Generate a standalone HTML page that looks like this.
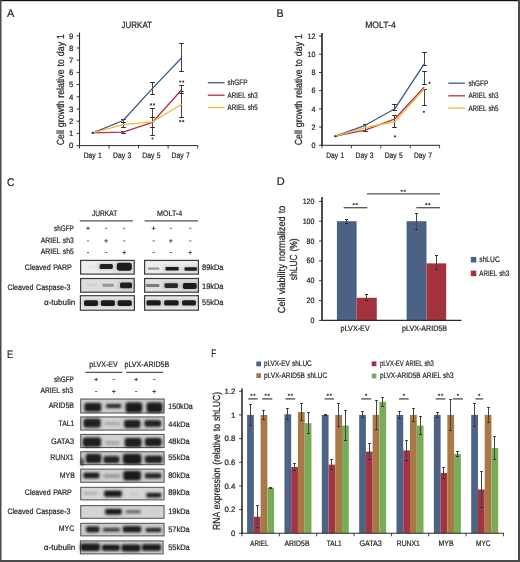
<!DOCTYPE html>
<html><head><meta charset="utf-8"><style>
html,body{margin:0;padding:0;background:#fff;}
body{width:520px;height:562px;overflow:hidden;}
svg{display:block;font-family:"Liberation Sans", sans-serif;will-change:transform;}
text{stroke:#262626;stroke-width:0.22px;paint-order:stroke;word-spacing:0.6px;text-rendering:geometricPrecision;}
</style></head><body>
<svg width="520" height="562" viewBox="0 0 520 562">
<defs><filter id="bl" x="-30%" y="-60%" width="160%" height="220%"><feGaussianBlur stdDeviation="0.75"/></filter><filter id="bl2" x="-30%" y="-80%" width="160%" height="260%"><feGaussianBlur stdDeviation="1.4"/></filter><filter id="bl3" x="-30%" y="-60%" width="160%" height="220%"><feGaussianBlur stdDeviation="0.95"/></filter></defs>
<rect x="0" y="0" width="520" height="562" fill="#ffffff"/>
<text x="7.00" y="16.80" font-size="11" text-anchor="start" fill="#262626">A</text>
<text x="121.60" y="27.70" font-size="9.2" text-anchor="start" fill="#262626" textLength="30.40" lengthAdjust="spacingAndGlyphs">JURKAT</text>
<text transform="translate(63.60,89.70) rotate(-90)" x="0" y="0" font-size="10.3" text-anchor="middle" fill="#262626" textLength="111.20" lengthAdjust="spacingAndGlyphs">Cell growth relative to day 1</text>
<line x1="79.50" y1="32.60" x2="79.50" y2="146.10" stroke="#2b2b2b" stroke-width="1.1"/>
<line x1="76.50" y1="145.60" x2="79.50" y2="145.60" stroke="#2b2b2b" stroke-width="0.9"/>
<text x="73.40" y="148.35" font-size="7.8" text-anchor="end" fill="#262626">0</text>
<line x1="76.50" y1="133.40" x2="79.50" y2="133.40" stroke="#2b2b2b" stroke-width="0.9"/>
<text x="73.40" y="136.15" font-size="7.8" text-anchor="end" fill="#262626">1</text>
<line x1="76.50" y1="121.20" x2="79.50" y2="121.20" stroke="#2b2b2b" stroke-width="0.9"/>
<text x="73.40" y="123.95" font-size="7.8" text-anchor="end" fill="#262626">2</text>
<line x1="76.50" y1="109.00" x2="79.50" y2="109.00" stroke="#2b2b2b" stroke-width="0.9"/>
<text x="73.40" y="111.75" font-size="7.8" text-anchor="end" fill="#262626">3</text>
<line x1="76.50" y1="96.80" x2="79.50" y2="96.80" stroke="#2b2b2b" stroke-width="0.9"/>
<text x="73.40" y="99.55" font-size="7.8" text-anchor="end" fill="#262626">4</text>
<line x1="76.50" y1="84.60" x2="79.50" y2="84.60" stroke="#2b2b2b" stroke-width="0.9"/>
<text x="73.40" y="87.35" font-size="7.8" text-anchor="end" fill="#262626">5</text>
<line x1="76.50" y1="72.40" x2="79.50" y2="72.40" stroke="#2b2b2b" stroke-width="0.9"/>
<text x="73.40" y="75.15" font-size="7.8" text-anchor="end" fill="#262626">6</text>
<line x1="76.50" y1="60.20" x2="79.50" y2="60.20" stroke="#2b2b2b" stroke-width="0.9"/>
<text x="73.40" y="62.95" font-size="7.8" text-anchor="end" fill="#262626">7</text>
<line x1="76.50" y1="48.00" x2="79.50" y2="48.00" stroke="#2b2b2b" stroke-width="0.9"/>
<text x="73.40" y="50.75" font-size="7.8" text-anchor="end" fill="#262626">8</text>
<line x1="76.50" y1="35.80" x2="79.50" y2="35.80" stroke="#2b2b2b" stroke-width="0.9"/>
<text x="73.40" y="38.55" font-size="7.8" text-anchor="end" fill="#262626">9</text>
<line x1="79.00" y1="145.60" x2="197.80" y2="145.60" stroke="#2b2b2b" stroke-width="1.0"/>
<line x1="79.50" y1="145.60" x2="79.50" y2="148.60" stroke="#2b2b2b" stroke-width="0.9"/>
<line x1="109.05" y1="145.60" x2="109.05" y2="148.60" stroke="#2b2b2b" stroke-width="0.9"/>
<line x1="138.60" y1="145.60" x2="138.60" y2="148.60" stroke="#2b2b2b" stroke-width="0.9"/>
<line x1="168.15" y1="145.60" x2="168.15" y2="148.60" stroke="#2b2b2b" stroke-width="0.9"/>
<line x1="197.70" y1="145.60" x2="197.70" y2="148.60" stroke="#2b2b2b" stroke-width="0.9"/>
<text x="92.80" y="157.90" font-size="8.0" text-anchor="middle" fill="#262626" textLength="18.20" lengthAdjust="spacingAndGlyphs">Day 1</text>
<text x="122.20" y="157.90" font-size="8.0" text-anchor="middle" fill="#262626" textLength="18.20" lengthAdjust="spacingAndGlyphs">Day 3</text>
<text x="151.40" y="157.90" font-size="8.0" text-anchor="middle" fill="#262626" textLength="18.20" lengthAdjust="spacingAndGlyphs">Day 5</text>
<text x="180.60" y="157.90" font-size="8.0" text-anchor="middle" fill="#262626" textLength="18.20" lengthAdjust="spacingAndGlyphs">Day 7</text>
<line x1="123.50" y1="119.60" x2="123.50" y2="127.40" stroke="#444" stroke-width="1.0"/>
<line x1="121.20" y1="119.50" x2="125.80" y2="119.50" stroke="#2b2b2b" stroke-width="1.0"/>
<line x1="121.20" y1="127.50" x2="125.80" y2="127.50" stroke="#2b2b2b" stroke-width="1.0"/>
<line x1="121.20" y1="122.50" x2="125.80" y2="122.50" stroke="#2b2b2b" stroke-width="1.0"/>
<line x1="123.50" y1="131.60" x2="123.50" y2="133.40" stroke="#444" stroke-width="1.0"/>
<line x1="121.20" y1="131.50" x2="125.80" y2="131.50" stroke="#2b2b2b" stroke-width="1.0"/>
<line x1="121.20" y1="133.50" x2="125.80" y2="133.50" stroke="#2b2b2b" stroke-width="1.0"/>
<line x1="152.50" y1="82.20" x2="152.50" y2="94.20" stroke="#444" stroke-width="1.0"/>
<line x1="150.20" y1="82.50" x2="154.80" y2="82.50" stroke="#2b2b2b" stroke-width="1.0"/>
<line x1="150.20" y1="94.50" x2="154.80" y2="94.50" stroke="#2b2b2b" stroke-width="1.0"/>
<line x1="152.50" y1="108.60" x2="152.50" y2="135.60" stroke="#444" stroke-width="1.0"/>
<line x1="150.20" y1="108.50" x2="154.80" y2="108.50" stroke="#2b2b2b" stroke-width="1.0"/>
<line x1="150.20" y1="135.50" x2="154.80" y2="135.50" stroke="#2b2b2b" stroke-width="1.0"/>
<line x1="150.20" y1="117.50" x2="154.80" y2="117.50" stroke="#2b2b2b" stroke-width="1.0"/>
<line x1="150.20" y1="127.50" x2="154.80" y2="127.50" stroke="#2b2b2b" stroke-width="1.0"/>
<line x1="181.50" y1="43.20" x2="181.50" y2="71.10" stroke="#444" stroke-width="1.0"/>
<line x1="179.20" y1="43.50" x2="183.80" y2="43.50" stroke="#2b2b2b" stroke-width="1.0"/>
<line x1="179.20" y1="71.50" x2="183.80" y2="71.50" stroke="#2b2b2b" stroke-width="1.0"/>
<line x1="181.50" y1="85.40" x2="181.50" y2="117.70" stroke="#444" stroke-width="1.0"/>
<line x1="179.20" y1="85.50" x2="183.80" y2="85.50" stroke="#2b2b2b" stroke-width="1.0"/>
<line x1="179.20" y1="117.50" x2="183.80" y2="117.50" stroke="#2b2b2b" stroke-width="1.0"/>
<line x1="179.20" y1="91.50" x2="183.80" y2="91.50" stroke="#2b2b2b" stroke-width="1.0"/>
<line x1="179.20" y1="93.50" x2="183.80" y2="93.50" stroke="#2b2b2b" stroke-width="1.0"/>
<polyline points="92.80,132.90 123.10,120.50 152.50,88.40 181.70,57.70" fill="none" stroke="#3b5a8c" stroke-width="1.3" stroke-linejoin="round"/>
<polyline points="92.80,132.90 123.10,132.20 152.50,122.30 181.70,89.80" fill="none" stroke="#b03246" stroke-width="1.3" stroke-linejoin="round"/>
<polyline points="92.80,132.90 123.10,124.60 152.50,121.80 181.70,104.30" fill="none" stroke="#f0b938" stroke-width="1.3" stroke-linejoin="round"/>
<rect x="91.60" y="132.10" width="2.20" height="1.70" fill="#222"/>
<circle cx="151.00" cy="104.50" r="1.15" fill="#4a4a4a"/>
<circle cx="154.00" cy="104.50" r="1.15" fill="#4a4a4a"/>
<circle cx="152.50" cy="138.60" r="1.15" fill="#4a4a4a"/>
<circle cx="180.20" cy="81.60" r="1.15" fill="#4a4a4a"/>
<circle cx="183.20" cy="81.60" r="1.15" fill="#4a4a4a"/>
<circle cx="180.20" cy="121.20" r="1.15" fill="#4a4a4a"/>
<circle cx="183.20" cy="121.20" r="1.15" fill="#4a4a4a"/>
<line x1="207.80" y1="82.70" x2="224.60" y2="82.70" stroke="#3b5a8c" stroke-width="1.3"/>
<text x="227.60" y="85.30" font-size="8.0" text-anchor="start" fill="#262626" textLength="19.80" lengthAdjust="spacingAndGlyphs">shGFP</text>
<line x1="207.80" y1="95.20" x2="224.60" y2="95.20" stroke="#b03246" stroke-width="1.3"/>
<text x="227.60" y="97.80" font-size="8.0" text-anchor="start" fill="#262626" textLength="30.20" lengthAdjust="spacingAndGlyphs">ARIEL sh3</text>
<line x1="207.80" y1="107.50" x2="224.60" y2="107.50" stroke="#f0b938" stroke-width="1.3"/>
<text x="227.60" y="110.10" font-size="8.0" text-anchor="start" fill="#262626" textLength="30.20" lengthAdjust="spacingAndGlyphs">ARIEL sh5</text>
<text x="276.50" y="16.80" font-size="11" text-anchor="start" fill="#262626" textLength="7.05" lengthAdjust="spacingAndGlyphs">B</text>
<text x="365.20" y="28.00" font-size="9.2" text-anchor="start" fill="#262626" textLength="30.50" lengthAdjust="spacingAndGlyphs">MOLT-4</text>
<text transform="translate(301.60,89.70) rotate(-90)" x="0" y="0" font-size="10.3" text-anchor="middle" fill="#262626" textLength="111.20" lengthAdjust="spacingAndGlyphs">Cell growth relative to day 1</text>
<line x1="322.00" y1="33.00" x2="322.00" y2="145.80" stroke="#222" stroke-width="1.6"/>
<line x1="319.00" y1="145.30" x2="322.00" y2="145.30" stroke="#2b2b2b" stroke-width="0.9"/>
<text x="315.40" y="148.05" font-size="7.8" text-anchor="end" fill="#262626" textLength="4.00" lengthAdjust="spacingAndGlyphs">0</text>
<line x1="319.00" y1="127.10" x2="322.00" y2="127.10" stroke="#2b2b2b" stroke-width="0.9"/>
<text x="315.40" y="129.85" font-size="7.8" text-anchor="end" fill="#262626" textLength="4.00" lengthAdjust="spacingAndGlyphs">2</text>
<line x1="319.00" y1="108.90" x2="322.00" y2="108.90" stroke="#2b2b2b" stroke-width="0.9"/>
<text x="315.40" y="111.65" font-size="7.8" text-anchor="end" fill="#262626" textLength="4.00" lengthAdjust="spacingAndGlyphs">4</text>
<line x1="319.00" y1="90.70" x2="322.00" y2="90.70" stroke="#2b2b2b" stroke-width="0.9"/>
<text x="315.40" y="93.45" font-size="7.8" text-anchor="end" fill="#262626" textLength="4.00" lengthAdjust="spacingAndGlyphs">6</text>
<line x1="319.00" y1="72.50" x2="322.00" y2="72.50" stroke="#2b2b2b" stroke-width="0.9"/>
<text x="315.40" y="75.25" font-size="7.8" text-anchor="end" fill="#262626" textLength="4.00" lengthAdjust="spacingAndGlyphs">8</text>
<line x1="319.00" y1="54.30" x2="322.00" y2="54.30" stroke="#2b2b2b" stroke-width="0.9"/>
<text x="315.40" y="57.05" font-size="7.8" text-anchor="end" fill="#262626" textLength="8.00" lengthAdjust="spacingAndGlyphs">10</text>
<line x1="319.00" y1="36.10" x2="322.00" y2="36.10" stroke="#2b2b2b" stroke-width="0.9"/>
<text x="315.40" y="38.85" font-size="7.8" text-anchor="end" fill="#262626" textLength="8.00" lengthAdjust="spacingAndGlyphs">12</text>
<line x1="321.50" y1="145.30" x2="439.80" y2="145.30" stroke="#2b2b2b" stroke-width="1.0"/>
<line x1="322.00" y1="145.30" x2="322.00" y2="148.30" stroke="#2b2b2b" stroke-width="0.9"/>
<line x1="351.40" y1="145.30" x2="351.40" y2="148.30" stroke="#2b2b2b" stroke-width="0.9"/>
<line x1="380.80" y1="145.30" x2="380.80" y2="148.30" stroke="#2b2b2b" stroke-width="0.9"/>
<line x1="410.20" y1="145.30" x2="410.20" y2="148.30" stroke="#2b2b2b" stroke-width="0.9"/>
<line x1="439.60" y1="145.30" x2="439.60" y2="148.30" stroke="#2b2b2b" stroke-width="0.9"/>
<text x="335.25" y="157.60" font-size="8.0" text-anchor="middle" fill="#262626" textLength="18.00" lengthAdjust="spacingAndGlyphs">Day 1</text>
<text x="364.60" y="157.60" font-size="8.0" text-anchor="middle" fill="#262626" textLength="18.00" lengthAdjust="spacingAndGlyphs">Day 3</text>
<text x="393.75" y="157.60" font-size="8.0" text-anchor="middle" fill="#262626" textLength="18.00" lengthAdjust="spacingAndGlyphs">Day 5</text>
<text x="423.00" y="157.60" font-size="8.0" text-anchor="middle" fill="#262626" textLength="18.00" lengthAdjust="spacingAndGlyphs">Day 7</text>
<line x1="365.50" y1="124.30" x2="365.50" y2="131.80" stroke="#444" stroke-width="1.0"/>
<line x1="363.20" y1="124.50" x2="367.80" y2="124.50" stroke="#2b2b2b" stroke-width="1.0"/>
<line x1="363.20" y1="131.50" x2="367.80" y2="131.50" stroke="#2b2b2b" stroke-width="1.0"/>
<line x1="394.50" y1="104.50" x2="394.50" y2="110.50" stroke="#444" stroke-width="1.0"/>
<line x1="392.20" y1="104.50" x2="396.80" y2="104.50" stroke="#2b2b2b" stroke-width="1.0"/>
<line x1="392.20" y1="110.50" x2="396.80" y2="110.50" stroke="#2b2b2b" stroke-width="1.0"/>
<line x1="394.50" y1="115.30" x2="394.50" y2="127.30" stroke="#444" stroke-width="1.0"/>
<line x1="392.20" y1="115.50" x2="396.80" y2="115.50" stroke="#2b2b2b" stroke-width="1.0"/>
<line x1="392.20" y1="127.50" x2="396.80" y2="127.50" stroke="#2b2b2b" stroke-width="1.0"/>
<line x1="424.50" y1="52.50" x2="424.50" y2="65.30" stroke="#444" stroke-width="1.0"/>
<line x1="422.20" y1="52.50" x2="426.80" y2="52.50" stroke="#2b2b2b" stroke-width="1.0"/>
<line x1="422.20" y1="65.50" x2="426.80" y2="65.50" stroke="#2b2b2b" stroke-width="1.0"/>
<line x1="424.50" y1="71.00" x2="424.50" y2="84.40" stroke="#444" stroke-width="1.0"/>
<line x1="422.20" y1="71.50" x2="426.80" y2="71.50" stroke="#2b2b2b" stroke-width="1.0"/>
<line x1="422.20" y1="84.50" x2="426.80" y2="84.50" stroke="#2b2b2b" stroke-width="1.0"/>
<line x1="424.50" y1="89.30" x2="424.50" y2="105.20" stroke="#444" stroke-width="1.0"/>
<line x1="422.20" y1="89.50" x2="426.80" y2="89.50" stroke="#2b2b2b" stroke-width="1.0"/>
<line x1="422.20" y1="105.50" x2="426.80" y2="105.50" stroke="#2b2b2b" stroke-width="1.0"/>
<polyline points="335.50,136.20 365.20,125.30 394.90,108.70 424.20,63.80" fill="none" stroke="#3b5a8c" stroke-width="1.3" stroke-linejoin="round"/>
<polyline points="335.50,136.20 365.20,130.10 394.90,118.80 424.20,87.20" fill="none" stroke="#b03246" stroke-width="1.3" stroke-linejoin="round"/>
<polyline points="335.50,136.20 365.20,127.60 394.90,121.50 424.20,88.90" fill="none" stroke="#f0b938" stroke-width="1.3" stroke-linejoin="round"/>
<rect x="334.30" y="135.40" width="2.20" height="1.70" fill="#222"/>
<circle cx="394.90" cy="136.40" r="1.15" fill="#4a4a4a"/>
<circle cx="429.50" cy="82.80" r="1.15" fill="#4a4a4a"/>
<circle cx="423.90" cy="111.80" r="1.15" fill="#4a4a4a"/>
<line x1="448.30" y1="83.20" x2="465.00" y2="83.20" stroke="#3b5a8c" stroke-width="1.3"/>
<text x="468.40" y="85.80" font-size="8.0" text-anchor="start" fill="#262626" textLength="19.80" lengthAdjust="spacingAndGlyphs">shGFP</text>
<line x1="448.30" y1="95.80" x2="465.00" y2="95.80" stroke="#b03246" stroke-width="1.3"/>
<text x="468.40" y="98.40" font-size="8.0" text-anchor="start" fill="#262626" textLength="30.20" lengthAdjust="spacingAndGlyphs">ARIEL sh3</text>
<line x1="448.30" y1="108.10" x2="465.00" y2="108.10" stroke="#f0b938" stroke-width="1.3"/>
<text x="468.40" y="110.70" font-size="8.0" text-anchor="start" fill="#262626" textLength="30.20" lengthAdjust="spacingAndGlyphs">ARIEL sh5</text>
<text x="6.90" y="185.60" font-size="11" text-anchor="start" fill="#262626" textLength="7.50" lengthAdjust="spacingAndGlyphs">C</text>
<text x="92.00" y="216.30" font-size="8.0" text-anchor="start" fill="#262626" textLength="25.20" lengthAdjust="spacingAndGlyphs">JURKAT</text>
<line x1="79.80" y1="220.80" x2="132.90" y2="220.80" stroke="#555" stroke-width="1.3"/>
<text x="157.00" y="216.30" font-size="8.0" text-anchor="start" fill="#262626" textLength="25.20" lengthAdjust="spacingAndGlyphs">MOLT-4</text>
<line x1="144.50" y1="220.80" x2="198.00" y2="220.80" stroke="#555" stroke-width="1.3"/>
<text x="73.80" y="230.80" font-size="8.0" text-anchor="end" fill="#262626" textLength="19.80" lengthAdjust="spacingAndGlyphs">shGFP</text>
<text x="73.80" y="242.50" font-size="8.0" text-anchor="end" fill="#262626" textLength="33.00" lengthAdjust="spacingAndGlyphs">ARIEL sh3</text>
<text x="73.80" y="254.30" font-size="8.0" text-anchor="end" fill="#262626" textLength="33.00" lengthAdjust="spacingAndGlyphs">ARIEL sh5</text>
<line x1="86.10" y1="228.30" x2="89.90" y2="228.30" stroke="#333" stroke-width="0.8"/>
<line x1="88.00" y1="226.40" x2="88.00" y2="230.20" stroke="#333" stroke-width="0.8"/>
<line x1="105.00" y1="228.30" x2="107.20" y2="228.30" stroke="#444" stroke-width="0.8"/>
<line x1="123.10" y1="228.30" x2="125.30" y2="228.30" stroke="#444" stroke-width="0.8"/>
<line x1="151.70" y1="228.30" x2="155.50" y2="228.30" stroke="#333" stroke-width="0.8"/>
<line x1="153.60" y1="226.40" x2="153.60" y2="230.20" stroke="#333" stroke-width="0.8"/>
<line x1="169.70" y1="228.30" x2="171.90" y2="228.30" stroke="#444" stroke-width="0.8"/>
<line x1="189.10" y1="228.30" x2="191.30" y2="228.30" stroke="#444" stroke-width="0.8"/>
<line x1="86.90" y1="240.90" x2="89.10" y2="240.90" stroke="#444" stroke-width="0.8"/>
<line x1="104.20" y1="240.90" x2="108.00" y2="240.90" stroke="#333" stroke-width="0.8"/>
<line x1="106.10" y1="239.00" x2="106.10" y2="242.80" stroke="#333" stroke-width="0.8"/>
<line x1="123.10" y1="240.90" x2="125.30" y2="240.90" stroke="#444" stroke-width="0.8"/>
<line x1="152.50" y1="240.90" x2="154.70" y2="240.90" stroke="#444" stroke-width="0.8"/>
<line x1="168.90" y1="240.90" x2="172.70" y2="240.90" stroke="#333" stroke-width="0.8"/>
<line x1="170.80" y1="239.00" x2="170.80" y2="242.80" stroke="#333" stroke-width="0.8"/>
<line x1="189.10" y1="240.90" x2="191.30" y2="240.90" stroke="#444" stroke-width="0.8"/>
<line x1="86.90" y1="252.50" x2="89.10" y2="252.50" stroke="#444" stroke-width="0.8"/>
<line x1="105.00" y1="252.50" x2="107.20" y2="252.50" stroke="#444" stroke-width="0.8"/>
<line x1="122.30" y1="252.50" x2="126.10" y2="252.50" stroke="#333" stroke-width="0.8"/>
<line x1="124.20" y1="250.60" x2="124.20" y2="254.40" stroke="#333" stroke-width="0.8"/>
<line x1="152.50" y1="252.50" x2="154.70" y2="252.50" stroke="#444" stroke-width="0.8"/>
<line x1="169.70" y1="252.50" x2="171.90" y2="252.50" stroke="#444" stroke-width="0.8"/>
<line x1="188.30" y1="252.50" x2="192.10" y2="252.50" stroke="#333" stroke-width="0.8"/>
<line x1="190.20" y1="250.60" x2="190.20" y2="254.40" stroke="#333" stroke-width="0.8"/>
<rect x="80.60" y="260.40" width="53.60" height="13.70" fill="#eeeeee" stroke="#3c3c3c" stroke-width="1.2"/>
<rect x="85.90" y="265.55" width="11.00" height="2.50" rx="0.75" fill="#141414" fill-opacity="0.035" filter="url(#bl)"/>
<rect x="97.60" y="262.60" width="17.20" height="8.00" rx="2" fill="#000" fill-opacity="0.123" filter="url(#bl2)"/>
<rect x="99.60" y="264.10" width="13.20" height="5.00" rx="1.50" fill="#141414" fill-opacity="0.95" filter="url(#bl)"/>
<rect x="114.80" y="261.20" width="19.00" height="11.00" rx="2" fill="#000" fill-opacity="0.126" filter="url(#bl2)"/>
<rect x="116.80" y="262.70" width="15.00" height="8.00" rx="2.40" fill="#141414" fill-opacity="0.97" filter="url(#bl)"/>
<rect x="144.60" y="260.40" width="53.80" height="13.70" fill="#ececec" stroke="#3c3c3c" stroke-width="1.2"/>
<rect x="147.85" y="267.40" width="11.50" height="2.40" rx="0.72" fill="#141414" fill-opacity="0.4" filter="url(#bl)"/>
<rect x="163.50" y="265.40" width="17.20" height="6.60" rx="2" fill="#000" fill-opacity="0.126" filter="url(#bl2)"/>
<rect x="165.50" y="266.90" width="13.20" height="3.60" rx="1.08" fill="#141414" fill-opacity="0.97" filter="url(#bl)"/>
<rect x="182.50" y="265.80" width="16.40" height="6.40" rx="2" fill="#000" fill-opacity="0.123" filter="url(#bl2)"/>
<rect x="184.50" y="267.30" width="12.40" height="3.40" rx="1.02" fill="#141414" fill-opacity="0.95" filter="url(#bl)"/>
<rect x="80.60" y="278.50" width="53.60" height="13.70" fill="#dddddd" stroke="#3c3c3c" stroke-width="1.2"/>
<rect x="85.90" y="283.50" width="11.00" height="3.00" rx="0.90" fill="#141414" fill-opacity="0.06" filter="url(#bl)"/>
<rect x="102.45" y="283.70" width="11.50" height="3.00" rx="0.90" fill="#141414" fill-opacity="0.35" filter="url(#bl)"/>
<rect x="118.00" y="281.10" width="16.00" height="8.60" rx="2" fill="#000" fill-opacity="0.123" filter="url(#bl2)"/>
<rect x="120.00" y="282.60" width="12.00" height="5.60" rx="1.68" fill="#141414" fill-opacity="0.95" filter="url(#bl)"/>
<rect x="144.60" y="278.50" width="53.80" height="13.70" fill="#e0e0e0" stroke="#3c3c3c" stroke-width="1.2"/>
<rect x="145.95" y="283.90" width="13.50" height="3.00" rx="0.90" fill="#141414" fill-opacity="0.5" filter="url(#bl)"/>
<rect x="162.45" y="281.80" width="17.50" height="7.60" rx="2" fill="#000" fill-opacity="0.117" filter="url(#bl2)"/>
<rect x="164.45" y="283.30" width="13.50" height="4.60" rx="1.38" fill="#141414" fill-opacity="0.9" filter="url(#bl)"/>
<rect x="180.90" y="281.60" width="17.80" height="9.00" rx="2" fill="#000" fill-opacity="0.126" filter="url(#bl2)"/>
<rect x="182.90" y="283.10" width="13.80" height="6.00" rx="1.80" fill="#141414" fill-opacity="0.97" filter="url(#bl)"/>
<rect x="80.40" y="295.70" width="54.00" height="14.50" fill="#ececec" stroke="#3c3c3c" stroke-width="1.2"/>
<rect x="82.00" y="298.80" width="18.00" height="8.80" rx="2" fill="#000" fill-opacity="0.126" filter="url(#bl2)"/>
<rect x="84.00" y="300.30" width="14.00" height="5.80" rx="1.74" fill="#141414" fill-opacity="0.97" filter="url(#bl)"/>
<rect x="98.90" y="298.80" width="18.00" height="8.80" rx="2" fill="#000" fill-opacity="0.126" filter="url(#bl2)"/>
<rect x="100.90" y="300.30" width="14.00" height="5.80" rx="1.74" fill="#141414" fill-opacity="0.97" filter="url(#bl)"/>
<rect x="115.60" y="298.80" width="18.20" height="8.80" rx="2" fill="#000" fill-opacity="0.126" filter="url(#bl2)"/>
<rect x="117.60" y="300.30" width="14.20" height="5.80" rx="1.74" fill="#141414" fill-opacity="0.97" filter="url(#bl)"/>
<rect x="144.60" y="295.70" width="53.80" height="14.50" fill="#ececec" stroke="#3c3c3c" stroke-width="1.2"/>
<rect x="144.50" y="298.70" width="18.20" height="8.40" rx="2" fill="#000" fill-opacity="0.126" filter="url(#bl2)"/>
<rect x="146.50" y="300.20" width="14.20" height="5.40" rx="1.62" fill="#141414" fill-opacity="0.97" filter="url(#bl)"/>
<rect x="162.20" y="298.70" width="18.40" height="8.40" rx="2" fill="#000" fill-opacity="0.126" filter="url(#bl2)"/>
<rect x="164.20" y="300.20" width="14.40" height="5.40" rx="1.62" fill="#141414" fill-opacity="0.97" filter="url(#bl)"/>
<rect x="180.10" y="298.70" width="17.80" height="8.40" rx="2" fill="#000" fill-opacity="0.126" filter="url(#bl2)"/>
<rect x="182.10" y="300.20" width="13.80" height="5.40" rx="1.62" fill="#141414" fill-opacity="0.97" filter="url(#bl)"/>
<text x="24.80" y="270.00" font-size="8.0" text-anchor="start" fill="#262626" textLength="47.00" lengthAdjust="spacingAndGlyphs">Cleaved PARP</text>
<text x="7.40" y="289.80" font-size="8.0" text-anchor="start" fill="#262626" textLength="63.00" lengthAdjust="spacingAndGlyphs">Cleaved Caspase-3</text>
<text x="202.00" y="270.40" font-size="8.0" text-anchor="start" fill="#262626" textLength="21.50" lengthAdjust="spacingAndGlyphs">89kDa</text>
<text x="202.00" y="288.80" font-size="8.0" text-anchor="start" fill="#262626" textLength="21.50" lengthAdjust="spacingAndGlyphs">19kDa</text>
<text x="202.00" y="304.80" font-size="8.0" text-anchor="start" fill="#262626" textLength="21.50" lengthAdjust="spacingAndGlyphs">55kDa</text>
<text x="7.00" y="357.70" font-size="11" text-anchor="start" fill="#262626" textLength="6.20" lengthAdjust="spacingAndGlyphs">E</text>
<text x="89.20" y="367.30" font-size="8.0" text-anchor="start" fill="#262626" textLength="28.60" lengthAdjust="spacingAndGlyphs">pLVX-EV</text>
<line x1="85.40" y1="372.30" x2="122.30" y2="372.30" stroke="#555" stroke-width="1.3"/>
<text x="124.50" y="367.30" font-size="8.0" text-anchor="start" fill="#262626" textLength="44.80" lengthAdjust="spacingAndGlyphs">pLVX-ARID5B</text>
<line x1="126.20" y1="372.30" x2="163.20" y2="372.30" stroke="#555" stroke-width="1.3"/>
<text x="73.80" y="381.80" font-size="8.0" text-anchor="end" fill="#262626" textLength="19.80" lengthAdjust="spacingAndGlyphs">shGFP</text>
<text x="73.00" y="393.40" font-size="8.0" text-anchor="end" fill="#262626" textLength="32.60" lengthAdjust="spacingAndGlyphs">ARIEL sh3</text>
<line x1="94.30" y1="379.50" x2="98.10" y2="379.50" stroke="#333" stroke-width="0.8"/>
<line x1="96.20" y1="377.60" x2="96.20" y2="381.40" stroke="#333" stroke-width="0.8"/>
<line x1="112.70" y1="379.50" x2="114.90" y2="379.50" stroke="#444" stroke-width="0.8"/>
<line x1="134.30" y1="379.50" x2="138.10" y2="379.50" stroke="#333" stroke-width="0.8"/>
<line x1="136.20" y1="377.60" x2="136.20" y2="381.40" stroke="#333" stroke-width="0.8"/>
<line x1="153.10" y1="379.50" x2="155.30" y2="379.50" stroke="#444" stroke-width="0.8"/>
<line x1="95.10" y1="391.50" x2="97.30" y2="391.50" stroke="#444" stroke-width="0.8"/>
<line x1="111.90" y1="391.50" x2="115.70" y2="391.50" stroke="#333" stroke-width="0.8"/>
<line x1="113.80" y1="389.60" x2="113.80" y2="393.40" stroke="#333" stroke-width="0.8"/>
<line x1="135.10" y1="391.50" x2="137.30" y2="391.50" stroke="#444" stroke-width="0.8"/>
<line x1="152.30" y1="391.50" x2="156.10" y2="391.50" stroke="#333" stroke-width="0.8"/>
<line x1="154.20" y1="389.60" x2="154.20" y2="393.40" stroke="#333" stroke-width="0.8"/>
<rect x="80.73" y="399.02" width="83.35" height="13.95" fill="#cdcdcd" stroke="#555555" stroke-width="1.05"/>
<rect x="82.90" y="402.00" width="19.80" height="10.60" rx="2" fill="#000" fill-opacity="0.123" filter="url(#bl2)"/>
<rect x="84.50" y="403.10" width="16.60" height="8.40" rx="2.52" fill="#141414" fill-opacity="0.95" filter="url(#bl3)"/>
<rect x="104.90" y="403.00" width="17.80" height="6.00" rx="2" fill="#000" fill-opacity="0.111" filter="url(#bl2)"/>
<rect x="106.50" y="404.10" width="14.60" height="3.80" rx="1.14" fill="#141414" fill-opacity="0.85" filter="url(#bl3)"/>
<rect x="124.10" y="401.30" width="19.60" height="12.20" rx="2" fill="#000" fill-opacity="0.126" filter="url(#bl2)"/>
<rect x="125.70" y="402.40" width="16.40" height="10.00" rx="3.00" fill="#141414" fill-opacity="0.97" filter="url(#bl3)"/>
<rect x="145.10" y="401.40" width="18.80" height="12.20" rx="2" fill="#000" fill-opacity="0.126" filter="url(#bl2)"/>
<rect x="146.70" y="402.50" width="15.60" height="10.00" rx="3.00" fill="#141414" fill-opacity="0.97" filter="url(#bl3)"/>
<text x="168.20" y="408.80" font-size="8.0" text-anchor="start" fill="#262626" textLength="24.60" lengthAdjust="spacingAndGlyphs">150kDa</text>
<text x="48.70" y="408.40" font-size="8.0" text-anchor="start" fill="#262626" textLength="25.30" lengthAdjust="spacingAndGlyphs">ARID5B</text>
<rect x="80.73" y="416.92" width="83.35" height="13.15" fill="#d2d2d2" stroke="#555555" stroke-width="1.05"/>
<rect x="82.10" y="417.60" width="20.00" height="11.00" rx="2" fill="#000" fill-opacity="0.123" filter="url(#bl2)"/>
<rect x="83.70" y="418.70" width="16.80" height="8.80" rx="2.64" fill="#141414" fill-opacity="0.95" filter="url(#bl3)"/>
<rect x="104.70" y="421.90" width="15.40" height="3.40" rx="1.02" fill="#141414" fill-opacity="0.2" filter="url(#bl3)"/>
<rect x="122.70" y="419.00" width="19.20" height="10.00" rx="2" fill="#000" fill-opacity="0.123" filter="url(#bl2)"/>
<rect x="124.30" y="420.10" width="16.00" height="7.80" rx="2.34" fill="#141414" fill-opacity="0.95" filter="url(#bl3)"/>
<rect x="143.00" y="419.10" width="19.60" height="8.80" rx="2" fill="#000" fill-opacity="0.121" filter="url(#bl2)"/>
<rect x="144.60" y="420.20" width="16.40" height="6.60" rx="1.98" fill="#141414" fill-opacity="0.93" filter="url(#bl3)"/>
<text x="168.20" y="426.50" font-size="8.0" text-anchor="start" fill="#262626" textLength="21.50" lengthAdjust="spacingAndGlyphs">44kDa</text>
<text x="58.50" y="426.10" font-size="8.0" text-anchor="start" fill="#262626" textLength="15.80" lengthAdjust="spacingAndGlyphs">TAL1</text>
<rect x="80.73" y="434.42" width="83.35" height="13.15" fill="#d2d2d2" stroke="#555555" stroke-width="1.05"/>
<rect x="81.30" y="436.50" width="21.20" height="11.40" rx="2" fill="#000" fill-opacity="0.123" filter="url(#bl2)"/>
<rect x="82.90" y="437.60" width="18.00" height="9.20" rx="2.76" fill="#141414" fill-opacity="0.95" filter="url(#bl3)"/>
<rect x="105.35" y="441.00" width="14.30" height="3.80" rx="1.14" fill="#141414" fill-opacity="0.2" filter="url(#bl3)"/>
<rect x="123.20" y="437.00" width="19.80" height="11.00" rx="2" fill="#000" fill-opacity="0.123" filter="url(#bl2)"/>
<rect x="124.80" y="438.10" width="16.60" height="8.80" rx="2.64" fill="#141414" fill-opacity="0.95" filter="url(#bl3)"/>
<rect x="143.40" y="437.00" width="19.80" height="10.40" rx="2" fill="#000" fill-opacity="0.123" filter="url(#bl2)"/>
<rect x="145.00" y="438.10" width="16.60" height="8.20" rx="2.46" fill="#141414" fill-opacity="0.95" filter="url(#bl3)"/>
<text x="168.20" y="443.50" font-size="8.0" text-anchor="start" fill="#262626" textLength="21.50" lengthAdjust="spacingAndGlyphs">48kDa</text>
<text x="51.00" y="443.50" font-size="8.0" text-anchor="start" fill="#262626" textLength="23.00" lengthAdjust="spacingAndGlyphs">GATA3</text>
<rect x="80.73" y="451.72" width="83.35" height="12.95" fill="#cacaca" stroke="#555555" stroke-width="1.05"/>
<rect x="84.30" y="453.00" width="18.40" height="11.00" rx="2" fill="#000" fill-opacity="0.123" filter="url(#bl2)"/>
<rect x="85.90" y="454.10" width="15.20" height="8.80" rx="2.64" fill="#141414" fill-opacity="0.95" filter="url(#bl3)"/>
<rect x="102.20" y="455.10" width="18.60" height="9.00" rx="2" fill="#000" fill-opacity="0.120" filter="url(#bl2)"/>
<rect x="103.80" y="456.20" width="15.40" height="6.80" rx="2.04" fill="#141414" fill-opacity="0.92" filter="url(#bl3)"/>
<rect x="121.40" y="453.00" width="21.40" height="12.00" rx="2" fill="#000" fill-opacity="0.126" filter="url(#bl2)"/>
<rect x="123.00" y="454.10" width="18.20" height="9.80" rx="2.94" fill="#141414" fill-opacity="0.97" filter="url(#bl3)"/>
<rect x="143.40" y="454.70" width="20.40" height="9.40" rx="2" fill="#000" fill-opacity="0.121" filter="url(#bl2)"/>
<rect x="145.00" y="455.80" width="17.20" height="7.20" rx="2.16" fill="#141414" fill-opacity="0.93" filter="url(#bl3)"/>
<rect x="79.30" y="457.50" width="5.80" height="9.00" rx="2" fill="#000" fill-opacity="0.104" filter="url(#bl2)"/>
<rect x="80.90" y="458.60" width="2.60" height="6.80" rx="1.30" fill="#141414" fill-opacity="0.8" filter="url(#bl3)"/>
<text x="168.20" y="460.30" font-size="8.0" text-anchor="start" fill="#262626" textLength="21.50" lengthAdjust="spacingAndGlyphs">55kDa</text>
<text x="50.30" y="459.90" font-size="8.0" text-anchor="start" fill="#262626" textLength="23.30" lengthAdjust="spacingAndGlyphs">RUNX1</text>
<rect x="80.73" y="469.12" width="83.35" height="13.15" fill="#d0d0d0" stroke="#555555" stroke-width="1.05"/>
<rect x="82.00" y="471.70" width="18.80" height="7.60" rx="2" fill="#000" fill-opacity="0.123" filter="url(#bl2)"/>
<rect x="83.60" y="472.80" width="15.60" height="5.40" rx="1.62" fill="#141414" fill-opacity="0.95" filter="url(#bl3)"/>
<rect x="103.70" y="474.30" width="16.20" height="3.80" rx="1.14" fill="#141414" fill-opacity="0.3" filter="url(#bl3)"/>
<rect x="121.80" y="470.00" width="20.60" height="11.40" rx="2" fill="#000" fill-opacity="0.126" filter="url(#bl2)"/>
<rect x="123.40" y="471.10" width="17.40" height="9.20" rx="2.76" fill="#141414" fill-opacity="0.97" filter="url(#bl3)"/>
<rect x="143.50" y="472.20" width="19.20" height="7.20" rx="2" fill="#000" fill-opacity="0.117" filter="url(#bl2)"/>
<rect x="145.10" y="473.30" width="16.00" height="5.00" rx="1.50" fill="#141414" fill-opacity="0.9" filter="url(#bl3)"/>
<text x="168.20" y="478.20" font-size="8.0" text-anchor="start" fill="#262626" textLength="21.50" lengthAdjust="spacingAndGlyphs">80kDa</text>
<text x="59.70" y="478.40" font-size="8.0" text-anchor="start" fill="#262626" textLength="15.10" lengthAdjust="spacingAndGlyphs">MYB</text>
<rect x="80.73" y="487.32" width="83.35" height="12.55" fill="#d6d6d6" stroke="#555555" stroke-width="1.05"/>
<rect x="83.60" y="491.80" width="13.80" height="3.00" rx="0.90" fill="#141414" fill-opacity="0.18" filter="url(#bl3)"/>
<rect x="102.75" y="489.60" width="20.50" height="8.20" rx="2" fill="#000" fill-opacity="0.126" filter="url(#bl2)"/>
<rect x="104.35" y="490.70" width="17.30" height="6.00" rx="1.80" fill="#141414" fill-opacity="0.97" filter="url(#bl3)"/>
<rect x="129.90" y="492.80" width="8.80" height="2.40" rx="0.72" fill="#141414" fill-opacity="0.08" filter="url(#bl3)"/>
<rect x="144.90" y="491.80" width="17.80" height="6.80" rx="2" fill="#000" fill-opacity="0.121" filter="url(#bl2)"/>
<rect x="146.50" y="492.90" width="14.60" height="4.60" rx="1.38" fill="#141414" fill-opacity="0.93" filter="url(#bl3)"/>
<text x="168.20" y="495.00" font-size="8.0" text-anchor="start" fill="#262626" textLength="21.50" lengthAdjust="spacingAndGlyphs">89kDa</text>
<text x="24.80" y="494.90" font-size="8.0" text-anchor="start" fill="#262626" textLength="47.00" lengthAdjust="spacingAndGlyphs">Cleaved PARP</text>
<rect x="80.73" y="505.62" width="83.35" height="12.65" fill="#d4d4d4" stroke="#555555" stroke-width="1.05"/>
<rect x="103.70" y="507.80" width="19.60" height="7.80" rx="2" fill="#000" fill-opacity="0.126" filter="url(#bl2)"/>
<rect x="105.30" y="508.90" width="16.40" height="5.60" rx="1.68" fill="#141414" fill-opacity="0.97" filter="url(#bl3)"/>
<rect x="124.35" y="509.10" width="17.90" height="5.20" rx="2" fill="#000" fill-opacity="0.072" filter="url(#bl2)"/>
<rect x="125.95" y="510.20" width="14.70" height="3.00" rx="0.90" fill="#141414" fill-opacity="0.55" filter="url(#bl3)"/>
<rect x="147.60" y="510.20" width="12.80" height="2.80" rx="0.84" fill="#141414" fill-opacity="0.04" filter="url(#bl3)"/>
<text x="168.20" y="514.10" font-size="8.0" text-anchor="start" fill="#262626" textLength="21.50" lengthAdjust="spacingAndGlyphs">19kDa</text>
<text x="7.40" y="514.20" font-size="8.0" text-anchor="start" fill="#262626" textLength="63.00" lengthAdjust="spacingAndGlyphs">Cleaved Caspase-3</text>
<rect x="80.73" y="523.32" width="83.35" height="12.55" fill="#cccccc" stroke="#555555" stroke-width="1.05"/>
<rect x="84.65" y="525.50" width="16.10" height="7.80" rx="2" fill="#000" fill-opacity="0.121" filter="url(#bl2)"/>
<rect x="86.25" y="526.60" width="12.90" height="5.60" rx="1.68" fill="#141414" fill-opacity="0.93" filter="url(#bl3)"/>
<rect x="101.60" y="526.90" width="19.60" height="5.80" rx="2" fill="#000" fill-opacity="0.098" filter="url(#bl2)"/>
<rect x="103.20" y="528.00" width="16.40" height="3.60" rx="1.08" fill="#141414" fill-opacity="0.75" filter="url(#bl3)"/>
<rect x="121.35" y="525.25" width="21.30" height="8.10" rx="2" fill="#000" fill-opacity="0.123" filter="url(#bl2)"/>
<rect x="122.95" y="526.35" width="18.10" height="5.90" rx="1.77" fill="#141414" fill-opacity="0.95" filter="url(#bl3)"/>
<rect x="144.30" y="526.80" width="18.40" height="6.20" rx="2" fill="#000" fill-opacity="0.114" filter="url(#bl2)"/>
<rect x="145.90" y="527.90" width="15.20" height="4.00" rx="1.20" fill="#141414" fill-opacity="0.88" filter="url(#bl3)"/>
<text x="168.20" y="531.80" font-size="8.0" text-anchor="start" fill="#262626" textLength="21.50" lengthAdjust="spacingAndGlyphs">57kDa</text>
<text x="58.80" y="531.40" font-size="8.0" text-anchor="start" fill="#262626" textLength="15.50" lengthAdjust="spacingAndGlyphs">MYC</text>
<rect x="80.43" y="540.92" width="82.65" height="12.95" fill="#d4d4d4" stroke="#555555" stroke-width="1.05"/>
<rect x="78.95" y="542.50" width="22.50" height="9.60" rx="2" fill="#000" fill-opacity="0.126" filter="url(#bl2)"/>
<rect x="80.55" y="543.60" width="19.30" height="7.40" rx="2.22" fill="#141414" fill-opacity="0.97" filter="url(#bl3)"/>
<rect x="100.45" y="543.60" width="20.90" height="8.20" rx="2" fill="#000" fill-opacity="0.126" filter="url(#bl2)"/>
<rect x="102.05" y="544.70" width="17.70" height="6.00" rx="1.80" fill="#141414" fill-opacity="0.97" filter="url(#bl3)"/>
<rect x="120.00" y="543.30" width="22.00" height="9.20" rx="2" fill="#000" fill-opacity="0.126" filter="url(#bl2)"/>
<rect x="121.60" y="544.40" width="18.80" height="7.00" rx="2.10" fill="#141414" fill-opacity="0.97" filter="url(#bl3)"/>
<rect x="140.40" y="543.20" width="22.20" height="8.60" rx="2" fill="#000" fill-opacity="0.126" filter="url(#bl2)"/>
<rect x="142.00" y="544.30" width="19.00" height="6.40" rx="1.92" fill="#141414" fill-opacity="0.97" filter="url(#bl3)"/>
<text x="168.20" y="550.30" font-size="8.0" text-anchor="start" fill="#262626" textLength="21.50" lengthAdjust="spacingAndGlyphs">55kDa</text>
<text x="43.90" y="305.20" font-size="8.0" text-anchor="start" fill="#262626" textLength="31.40" lengthAdjust="spacingAndGlyphs">α-tubulin</text>
<text x="43.70" y="550.20" font-size="8.0" text-anchor="start" fill="#262626" textLength="31.60" lengthAdjust="spacingAndGlyphs">α-tubulin</text>
<text x="276.80" y="185.10" font-size="11" text-anchor="start" fill="#262626">D</text>
<text transform="translate(285.40,259.40) rotate(-90)" x="0" y="0" font-size="10.3" text-anchor="middle" fill="#262626" textLength="107.50" lengthAdjust="spacingAndGlyphs">Cell viability normalized to</text>
<text transform="translate(297.20,259.30) rotate(-90)" x="0" y="0" font-size="10.3" text-anchor="middle" fill="#262626" textLength="41.80" lengthAdjust="spacingAndGlyphs">shLUC (%)</text>
<line x1="322.00" y1="197.00" x2="322.00" y2="320.90" stroke="#222" stroke-width="1.6"/>
<line x1="319.00" y1="320.40" x2="322.00" y2="320.40" stroke="#2b2b2b" stroke-width="0.9"/>
<text x="314.50" y="322.95" font-size="7.8" text-anchor="end" fill="#262626" textLength="3.95" lengthAdjust="spacingAndGlyphs">0</text>
<line x1="319.00" y1="300.56" x2="322.00" y2="300.56" stroke="#2b2b2b" stroke-width="0.9"/>
<text x="314.50" y="303.11" font-size="7.8" text-anchor="end" fill="#262626" textLength="7.90" lengthAdjust="spacingAndGlyphs">20</text>
<line x1="319.00" y1="280.72" x2="322.00" y2="280.72" stroke="#2b2b2b" stroke-width="0.9"/>
<text x="314.50" y="283.27" font-size="7.8" text-anchor="end" fill="#262626" textLength="7.90" lengthAdjust="spacingAndGlyphs">40</text>
<line x1="319.00" y1="260.88" x2="322.00" y2="260.88" stroke="#2b2b2b" stroke-width="0.9"/>
<text x="314.50" y="263.43" font-size="7.8" text-anchor="end" fill="#262626" textLength="7.90" lengthAdjust="spacingAndGlyphs">60</text>
<line x1="319.00" y1="241.04" x2="322.00" y2="241.04" stroke="#2b2b2b" stroke-width="0.9"/>
<text x="314.50" y="243.59" font-size="7.8" text-anchor="end" fill="#262626" textLength="7.90" lengthAdjust="spacingAndGlyphs">80</text>
<line x1="319.00" y1="221.20" x2="322.00" y2="221.20" stroke="#2b2b2b" stroke-width="0.9"/>
<text x="314.50" y="223.75" font-size="7.8" text-anchor="end" fill="#262626" textLength="11.85" lengthAdjust="spacingAndGlyphs">100</text>
<line x1="319.00" y1="201.36" x2="322.00" y2="201.36" stroke="#2b2b2b" stroke-width="0.9"/>
<text x="314.50" y="203.91" font-size="7.8" text-anchor="end" fill="#262626" textLength="11.85" lengthAdjust="spacingAndGlyphs">120</text>
<rect x="336.90" y="221.20" width="19.70" height="99.20" fill="#4b6285"/>
<rect x="356.60" y="297.78" width="20.20" height="22.62" fill="#a3323f"/>
<rect x="406.60" y="221.20" width="19.90" height="99.20" fill="#4b6285"/>
<rect x="426.50" y="263.36" width="19.70" height="57.04" fill="#a3323f"/>
<line x1="321.50" y1="320.40" x2="461.50" y2="320.40" stroke="#2b2b2b" stroke-width="1.1"/>
<line x1="346.50" y1="219.00" x2="346.50" y2="223.40" stroke="#444" stroke-width="1.0"/>
<line x1="345.00" y1="219.50" x2="348.00" y2="219.50" stroke="#2b2b2b" stroke-width="1.0"/>
<line x1="345.00" y1="223.50" x2="348.00" y2="223.50" stroke="#2b2b2b" stroke-width="1.0"/>
<line x1="366.50" y1="294.60" x2="366.50" y2="300.40" stroke="#444" stroke-width="1.0"/>
<line x1="365.00" y1="294.50" x2="368.00" y2="294.50" stroke="#2b2b2b" stroke-width="1.0"/>
<line x1="365.00" y1="300.50" x2="368.00" y2="300.50" stroke="#2b2b2b" stroke-width="1.0"/>
<line x1="416.50" y1="213.20" x2="416.50" y2="229.20" stroke="#444" stroke-width="1.0"/>
<line x1="415.00" y1="213.50" x2="418.00" y2="213.50" stroke="#2b2b2b" stroke-width="1.0"/>
<line x1="415.00" y1="229.50" x2="418.00" y2="229.50" stroke="#2b2b2b" stroke-width="1.0"/>
<line x1="436.50" y1="255.70" x2="436.50" y2="269.80" stroke="#444" stroke-width="1.0"/>
<line x1="435.00" y1="255.50" x2="438.00" y2="255.50" stroke="#2b2b2b" stroke-width="1.0"/>
<line x1="435.00" y1="269.50" x2="438.00" y2="269.50" stroke="#2b2b2b" stroke-width="1.0"/>
<line x1="343.60" y1="207.70" x2="367.30" y2="207.70" stroke="#555" stroke-width="1.3"/>
<line x1="416.30" y1="207.70" x2="440.00" y2="207.70" stroke="#555" stroke-width="1.3"/>
<line x1="367.00" y1="193.90" x2="440.00" y2="193.90" stroke="#555" stroke-width="1.3"/>
<circle cx="353.70" cy="204.20" r="1.15" fill="#4a4a4a"/>
<circle cx="356.70" cy="204.20" r="1.15" fill="#4a4a4a"/>
<circle cx="426.30" cy="204.20" r="1.15" fill="#4a4a4a"/>
<circle cx="429.30" cy="204.20" r="1.15" fill="#4a4a4a"/>
<circle cx="401.70" cy="190.80" r="1.15" fill="#4a4a4a"/>
<circle cx="404.70" cy="190.80" r="1.15" fill="#4a4a4a"/>
<text x="340.60" y="330.70" font-size="8.0" text-anchor="start" fill="#262626" textLength="29.10" lengthAdjust="spacingAndGlyphs">pLVX-EV</text>
<text x="402.10" y="330.80" font-size="8.0" text-anchor="start" fill="#262626" textLength="44.90" lengthAdjust="spacingAndGlyphs">pLVX-ARID5B</text>
<rect x="470.80" y="256.90" width="5.50" height="5.60" fill="#4b6285"/>
<rect x="470.80" y="270.60" width="5.50" height="5.60" fill="#a3323f"/>
<text x="479.30" y="262.30" font-size="8.0" text-anchor="start" fill="#262626" textLength="20.40" lengthAdjust="spacingAndGlyphs">shLUC</text>
<text x="479.30" y="275.60" font-size="8.0" text-anchor="start" fill="#262626" textLength="30.00" lengthAdjust="spacingAndGlyphs">ARIEL sh3</text>
<text x="211.20" y="357.30" font-size="11" text-anchor="start" fill="#262626" textLength="4.90" lengthAdjust="spacingAndGlyphs">F</text>
<rect x="256.30" y="361.50" width="4.70" height="4.80" fill="#4c6385"/>
<text x="263.90" y="366.30" font-size="8.0" text-anchor="start" fill="#262626" textLength="47.80" lengthAdjust="spacingAndGlyphs">pLVX-EV shLUC</text>
<rect x="256.30" y="373.20" width="4.70" height="4.80" fill="#aa7844"/>
<text x="263.90" y="378.00" font-size="8.0" text-anchor="start" fill="#262626" textLength="63.20" lengthAdjust="spacingAndGlyphs">pLVX-ARID5B shLUC</text>
<rect x="371.70" y="361.40" width="4.70" height="4.80" fill="#a33444"/>
<text x="379.90" y="366.20" font-size="8.0" text-anchor="start" fill="#262626" textLength="54.00" lengthAdjust="spacingAndGlyphs">pLVX-EV ARIEL sh3</text>
<rect x="371.70" y="373.60" width="4.70" height="4.80" fill="#78ab5a"/>
<text x="379.90" y="378.40" font-size="8.0" text-anchor="start" fill="#262626" textLength="73.60" lengthAdjust="spacingAndGlyphs">pLVX-ARID5B ARIEL sh3</text>
<text transform="translate(219.60,460.90) rotate(-90)" x="0" y="0" font-size="10.3" text-anchor="middle" fill="#262626" textLength="138.00" lengthAdjust="spacingAndGlyphs">RNA expression (relative to shLUC)</text>
<line x1="242.00" y1="388.50" x2="242.00" y2="533.80" stroke="#222" stroke-width="1.5"/>
<line x1="239.00" y1="533.30" x2="242.00" y2="533.30" stroke="#2b2b2b" stroke-width="0.9"/>
<text x="235.40" y="536.05" font-size="7.8" text-anchor="end" fill="#262626">0</text>
<line x1="239.00" y1="509.62" x2="242.00" y2="509.62" stroke="#2b2b2b" stroke-width="0.9"/>
<text x="235.40" y="512.37" font-size="7.8" text-anchor="end" fill="#262626">0.2</text>
<line x1="239.00" y1="485.94" x2="242.00" y2="485.94" stroke="#2b2b2b" stroke-width="0.9"/>
<text x="235.40" y="488.69" font-size="7.8" text-anchor="end" fill="#262626">0.4</text>
<line x1="239.00" y1="462.26" x2="242.00" y2="462.26" stroke="#2b2b2b" stroke-width="0.9"/>
<text x="235.40" y="465.01" font-size="7.8" text-anchor="end" fill="#262626">0.6</text>
<line x1="239.00" y1="438.58" x2="242.00" y2="438.58" stroke="#2b2b2b" stroke-width="0.9"/>
<text x="235.40" y="441.33" font-size="7.8" text-anchor="end" fill="#262626">0.8</text>
<line x1="239.00" y1="414.90" x2="242.00" y2="414.90" stroke="#2b2b2b" stroke-width="0.9"/>
<text x="235.40" y="417.65" font-size="7.8" text-anchor="end" fill="#262626">1</text>
<line x1="239.00" y1="391.22" x2="242.00" y2="391.22" stroke="#2b2b2b" stroke-width="0.9"/>
<text x="235.40" y="393.97" font-size="7.8" text-anchor="end" fill="#262626">1.2</text>
<line x1="242.00" y1="533.30" x2="242.00" y2="536.30" stroke="#2b2b2b" stroke-width="0.9"/>
<line x1="279.35" y1="533.30" x2="279.35" y2="536.30" stroke="#2b2b2b" stroke-width="0.9"/>
<line x1="316.70" y1="533.30" x2="316.70" y2="536.30" stroke="#2b2b2b" stroke-width="0.9"/>
<line x1="354.05" y1="533.30" x2="354.05" y2="536.30" stroke="#2b2b2b" stroke-width="0.9"/>
<line x1="391.40" y1="533.30" x2="391.40" y2="536.30" stroke="#2b2b2b" stroke-width="0.9"/>
<line x1="428.75" y1="533.30" x2="428.75" y2="536.30" stroke="#2b2b2b" stroke-width="0.9"/>
<line x1="466.10" y1="533.30" x2="466.10" y2="536.30" stroke="#2b2b2b" stroke-width="0.9"/>
<line x1="503.45" y1="533.30" x2="503.45" y2="536.30" stroke="#2b2b2b" stroke-width="0.9"/>
<rect x="247.10" y="414.90" width="6.75" height="118.40" fill="#4c6385"/>
<rect x="253.85" y="516.72" width="6.75" height="16.58" fill="#a33444"/>
<rect x="260.60" y="414.90" width="6.75" height="118.40" fill="#aa7844"/>
<rect x="267.35" y="487.72" width="6.75" height="45.58" fill="#78ab5a"/>
<line x1="250.50" y1="404.24" x2="250.50" y2="425.56" stroke="#444" stroke-width="1.0"/>
<line x1="249.20" y1="404.50" x2="251.80" y2="404.50" stroke="#2b2b2b" stroke-width="1.0"/>
<line x1="249.20" y1="425.50" x2="251.80" y2="425.50" stroke="#2b2b2b" stroke-width="1.0"/>
<line x1="257.50" y1="505.48" x2="257.50" y2="527.97" stroke="#444" stroke-width="1.0"/>
<line x1="256.20" y1="505.50" x2="258.80" y2="505.50" stroke="#2b2b2b" stroke-width="1.0"/>
<line x1="256.20" y1="527.50" x2="258.80" y2="527.50" stroke="#2b2b2b" stroke-width="1.0"/>
<line x1="263.50" y1="410.40" x2="263.50" y2="419.40" stroke="#444" stroke-width="1.0"/>
<line x1="262.20" y1="410.50" x2="264.80" y2="410.50" stroke="#2b2b2b" stroke-width="1.0"/>
<line x1="262.20" y1="419.50" x2="264.80" y2="419.50" stroke="#2b2b2b" stroke-width="1.0"/>
<line x1="270.50" y1="487.24" x2="270.50" y2="488.19" stroke="#444" stroke-width="1.0"/>
<line x1="269.20" y1="487.50" x2="271.80" y2="487.50" stroke="#2b2b2b" stroke-width="1.0"/>
<line x1="269.20" y1="488.50" x2="271.80" y2="488.50" stroke="#2b2b2b" stroke-width="1.0"/>
<rect x="284.45" y="414.31" width="6.75" height="118.99" fill="#4c6385"/>
<rect x="291.20" y="467.00" width="6.75" height="66.30" fill="#a33444"/>
<rect x="297.95" y="411.94" width="6.75" height="121.36" fill="#aa7844"/>
<rect x="304.70" y="423.19" width="6.75" height="110.11" fill="#78ab5a"/>
<line x1="287.50" y1="408.98" x2="287.50" y2="419.64" stroke="#444" stroke-width="1.0"/>
<line x1="286.20" y1="408.50" x2="288.80" y2="408.50" stroke="#2b2b2b" stroke-width="1.0"/>
<line x1="286.20" y1="419.50" x2="288.80" y2="419.50" stroke="#2b2b2b" stroke-width="1.0"/>
<line x1="294.50" y1="463.68" x2="294.50" y2="470.31" stroke="#444" stroke-width="1.0"/>
<line x1="293.20" y1="463.50" x2="295.80" y2="463.50" stroke="#2b2b2b" stroke-width="1.0"/>
<line x1="293.20" y1="470.50" x2="295.80" y2="470.50" stroke="#2b2b2b" stroke-width="1.0"/>
<line x1="301.50" y1="403.18" x2="301.50" y2="420.70" stroke="#444" stroke-width="1.0"/>
<line x1="300.20" y1="403.50" x2="302.80" y2="403.50" stroke="#2b2b2b" stroke-width="1.0"/>
<line x1="300.20" y1="420.50" x2="302.80" y2="420.50" stroke="#2b2b2b" stroke-width="1.0"/>
<line x1="308.50" y1="412.53" x2="308.50" y2="433.84" stroke="#444" stroke-width="1.0"/>
<line x1="307.20" y1="412.50" x2="309.80" y2="412.50" stroke="#2b2b2b" stroke-width="1.0"/>
<line x1="307.20" y1="433.50" x2="309.80" y2="433.50" stroke="#2b2b2b" stroke-width="1.0"/>
<rect x="321.80" y="414.90" width="6.75" height="118.40" fill="#4c6385"/>
<rect x="328.55" y="464.63" width="6.75" height="68.67" fill="#a33444"/>
<rect x="335.30" y="414.90" width="6.75" height="118.40" fill="#aa7844"/>
<rect x="342.05" y="425.56" width="6.75" height="107.74" fill="#78ab5a"/>
<line x1="325.50" y1="414.43" x2="325.50" y2="415.37" stroke="#444" stroke-width="1.0"/>
<line x1="324.20" y1="414.50" x2="326.80" y2="414.50" stroke="#2b2b2b" stroke-width="1.0"/>
<line x1="324.20" y1="415.50" x2="326.80" y2="415.50" stroke="#2b2b2b" stroke-width="1.0"/>
<line x1="331.50" y1="459.89" x2="331.50" y2="469.36" stroke="#444" stroke-width="1.0"/>
<line x1="330.20" y1="459.50" x2="332.80" y2="459.50" stroke="#2b2b2b" stroke-width="1.0"/>
<line x1="330.20" y1="469.50" x2="332.80" y2="469.50" stroke="#2b2b2b" stroke-width="1.0"/>
<line x1="338.50" y1="403.06" x2="338.50" y2="426.74" stroke="#444" stroke-width="1.0"/>
<line x1="337.20" y1="403.50" x2="339.80" y2="403.50" stroke="#2b2b2b" stroke-width="1.0"/>
<line x1="337.20" y1="426.50" x2="339.80" y2="426.50" stroke="#2b2b2b" stroke-width="1.0"/>
<line x1="345.50" y1="410.76" x2="345.50" y2="440.36" stroke="#444" stroke-width="1.0"/>
<line x1="344.20" y1="410.50" x2="346.80" y2="410.50" stroke="#2b2b2b" stroke-width="1.0"/>
<line x1="344.20" y1="440.50" x2="346.80" y2="440.50" stroke="#2b2b2b" stroke-width="1.0"/>
<rect x="359.15" y="414.90" width="6.75" height="118.40" fill="#4c6385"/>
<rect x="365.90" y="451.60" width="6.75" height="81.70" fill="#a33444"/>
<rect x="372.65" y="414.90" width="6.75" height="118.40" fill="#aa7844"/>
<rect x="379.40" y="401.88" width="6.75" height="131.42" fill="#78ab5a"/>
<line x1="362.50" y1="411.94" x2="362.50" y2="417.86" stroke="#444" stroke-width="1.0"/>
<line x1="361.20" y1="411.50" x2="363.80" y2="411.50" stroke="#2b2b2b" stroke-width="1.0"/>
<line x1="361.20" y1="417.50" x2="363.80" y2="417.50" stroke="#2b2b2b" stroke-width="1.0"/>
<line x1="369.50" y1="443.32" x2="369.50" y2="459.89" stroke="#444" stroke-width="1.0"/>
<line x1="368.20" y1="443.50" x2="370.80" y2="443.50" stroke="#2b2b2b" stroke-width="1.0"/>
<line x1="368.20" y1="459.50" x2="370.80" y2="459.50" stroke="#2b2b2b" stroke-width="1.0"/>
<line x1="376.50" y1="400.69" x2="376.50" y2="429.11" stroke="#444" stroke-width="1.0"/>
<line x1="375.20" y1="400.50" x2="377.80" y2="400.50" stroke="#2b2b2b" stroke-width="1.0"/>
<line x1="375.20" y1="429.50" x2="377.80" y2="429.50" stroke="#2b2b2b" stroke-width="1.0"/>
<line x1="382.50" y1="397.73" x2="382.50" y2="406.02" stroke="#444" stroke-width="1.0"/>
<line x1="381.20" y1="397.50" x2="383.80" y2="397.50" stroke="#2b2b2b" stroke-width="1.0"/>
<line x1="381.20" y1="406.50" x2="383.80" y2="406.50" stroke="#2b2b2b" stroke-width="1.0"/>
<rect x="396.50" y="414.90" width="6.75" height="118.40" fill="#4c6385"/>
<rect x="403.25" y="450.42" width="6.75" height="82.88" fill="#a33444"/>
<rect x="410.00" y="414.90" width="6.75" height="118.40" fill="#aa7844"/>
<rect x="416.75" y="425.56" width="6.75" height="107.74" fill="#78ab5a"/>
<line x1="399.50" y1="411.35" x2="399.50" y2="418.45" stroke="#444" stroke-width="1.0"/>
<line x1="398.20" y1="411.50" x2="400.80" y2="411.50" stroke="#2b2b2b" stroke-width="1.0"/>
<line x1="398.20" y1="418.50" x2="400.80" y2="418.50" stroke="#2b2b2b" stroke-width="1.0"/>
<line x1="406.50" y1="440.12" x2="406.50" y2="460.72" stroke="#444" stroke-width="1.0"/>
<line x1="405.20" y1="440.50" x2="407.80" y2="440.50" stroke="#2b2b2b" stroke-width="1.0"/>
<line x1="405.20" y1="460.50" x2="407.80" y2="460.50" stroke="#2b2b2b" stroke-width="1.0"/>
<line x1="413.50" y1="408.51" x2="413.50" y2="421.29" stroke="#444" stroke-width="1.0"/>
<line x1="412.20" y1="408.50" x2="414.80" y2="408.50" stroke="#2b2b2b" stroke-width="1.0"/>
<line x1="412.20" y1="421.50" x2="414.80" y2="421.50" stroke="#2b2b2b" stroke-width="1.0"/>
<line x1="420.50" y1="416.44" x2="420.50" y2="434.67" stroke="#444" stroke-width="1.0"/>
<line x1="419.20" y1="416.50" x2="421.80" y2="416.50" stroke="#2b2b2b" stroke-width="1.0"/>
<line x1="419.20" y1="434.50" x2="421.80" y2="434.50" stroke="#2b2b2b" stroke-width="1.0"/>
<rect x="433.85" y="414.90" width="6.75" height="118.40" fill="#4c6385"/>
<rect x="440.60" y="472.92" width="6.75" height="60.38" fill="#a33444"/>
<rect x="447.35" y="414.90" width="6.75" height="118.40" fill="#aa7844"/>
<rect x="454.10" y="453.97" width="6.75" height="79.33" fill="#78ab5a"/>
<line x1="437.50" y1="412.53" x2="437.50" y2="417.27" stroke="#444" stroke-width="1.0"/>
<line x1="436.20" y1="412.50" x2="438.80" y2="412.50" stroke="#2b2b2b" stroke-width="1.0"/>
<line x1="436.20" y1="417.50" x2="438.80" y2="417.50" stroke="#2b2b2b" stroke-width="1.0"/>
<line x1="443.50" y1="467.59" x2="443.50" y2="478.24" stroke="#444" stroke-width="1.0"/>
<line x1="442.20" y1="467.50" x2="444.80" y2="467.50" stroke="#2b2b2b" stroke-width="1.0"/>
<line x1="442.20" y1="478.50" x2="444.80" y2="478.50" stroke="#2b2b2b" stroke-width="1.0"/>
<line x1="450.50" y1="399.51" x2="450.50" y2="430.29" stroke="#444" stroke-width="1.0"/>
<line x1="449.20" y1="399.50" x2="451.80" y2="399.50" stroke="#2b2b2b" stroke-width="1.0"/>
<line x1="449.20" y1="430.50" x2="451.80" y2="430.50" stroke="#2b2b2b" stroke-width="1.0"/>
<line x1="457.50" y1="451.37" x2="457.50" y2="456.58" stroke="#444" stroke-width="1.0"/>
<line x1="456.20" y1="451.50" x2="458.80" y2="451.50" stroke="#2b2b2b" stroke-width="1.0"/>
<line x1="456.20" y1="456.50" x2="458.80" y2="456.50" stroke="#2b2b2b" stroke-width="1.0"/>
<rect x="471.20" y="414.90" width="6.75" height="118.40" fill="#4c6385"/>
<rect x="477.95" y="489.49" width="6.75" height="43.81" fill="#a33444"/>
<rect x="484.70" y="414.90" width="6.75" height="118.40" fill="#aa7844"/>
<rect x="491.45" y="448.05" width="6.75" height="85.25" fill="#78ab5a"/>
<line x1="474.50" y1="403.65" x2="474.50" y2="426.15" stroke="#444" stroke-width="1.0"/>
<line x1="473.20" y1="403.50" x2="475.80" y2="403.50" stroke="#2b2b2b" stroke-width="1.0"/>
<line x1="473.20" y1="426.50" x2="475.80" y2="426.50" stroke="#2b2b2b" stroke-width="1.0"/>
<line x1="481.50" y1="471.50" x2="481.50" y2="507.49" stroke="#444" stroke-width="1.0"/>
<line x1="480.20" y1="471.50" x2="482.80" y2="471.50" stroke="#2b2b2b" stroke-width="1.0"/>
<line x1="480.20" y1="507.50" x2="482.80" y2="507.50" stroke="#2b2b2b" stroke-width="1.0"/>
<line x1="488.50" y1="407.20" x2="488.50" y2="422.60" stroke="#444" stroke-width="1.0"/>
<line x1="487.20" y1="407.50" x2="489.80" y2="407.50" stroke="#2b2b2b" stroke-width="1.0"/>
<line x1="487.20" y1="422.50" x2="489.80" y2="422.50" stroke="#2b2b2b" stroke-width="1.0"/>
<line x1="494.50" y1="436.21" x2="494.50" y2="459.89" stroke="#444" stroke-width="1.0"/>
<line x1="493.20" y1="436.50" x2="495.80" y2="436.50" stroke="#2b2b2b" stroke-width="1.0"/>
<line x1="493.20" y1="459.50" x2="495.80" y2="459.50" stroke="#2b2b2b" stroke-width="1.0"/>
<line x1="241.50" y1="533.30" x2="504.00" y2="533.30" stroke="#2b2b2b" stroke-width="1.1"/>
<text x="259.30" y="546.40" font-size="8.0" text-anchor="middle" fill="#262626" textLength="18.20" lengthAdjust="spacingAndGlyphs">ARIEL</text>
<text x="297.00" y="546.40" font-size="8.0" text-anchor="middle" fill="#262626" textLength="25.00" lengthAdjust="spacingAndGlyphs">ARID5B</text>
<text x="334.20" y="546.40" font-size="8.0" text-anchor="middle" fill="#262626" textLength="15.00" lengthAdjust="spacingAndGlyphs">TAL1</text>
<text x="370.60" y="546.40" font-size="8.0" text-anchor="middle" fill="#262626" textLength="22.40" lengthAdjust="spacingAndGlyphs">GATA3</text>
<text x="408.30" y="546.40" font-size="8.0" text-anchor="middle" fill="#262626" textLength="23.00" lengthAdjust="spacingAndGlyphs">RUNX1</text>
<text x="446.10" y="546.40" font-size="8.0" text-anchor="middle" fill="#262626" textLength="15.00" lengthAdjust="spacingAndGlyphs">MYB</text>
<text x="483.30" y="546.40" font-size="8.0" text-anchor="middle" fill="#262626" textLength="14.60" lengthAdjust="spacingAndGlyphs">MYC</text>
<line x1="248.20" y1="398.90" x2="257.60" y2="398.90" stroke="#5a5a5a" stroke-width="1.4"/>
<circle cx="251.40" cy="394.80" r="1.15" fill="#4a4a4a"/>
<circle cx="254.40" cy="394.80" r="1.15" fill="#4a4a4a"/>
<line x1="262.00" y1="398.90" x2="272.30" y2="398.90" stroke="#5a5a5a" stroke-width="1.4"/>
<circle cx="265.65" cy="394.80" r="1.15" fill="#4a4a4a"/>
<circle cx="268.65" cy="394.80" r="1.15" fill="#4a4a4a"/>
<line x1="285.50" y1="398.90" x2="295.20" y2="398.90" stroke="#5a5a5a" stroke-width="1.4"/>
<circle cx="288.85" cy="394.80" r="1.15" fill="#4a4a4a"/>
<circle cx="291.85" cy="394.80" r="1.15" fill="#4a4a4a"/>
<line x1="324.60" y1="398.90" x2="334.00" y2="398.90" stroke="#5a5a5a" stroke-width="1.4"/>
<circle cx="327.80" cy="394.80" r="1.15" fill="#4a4a4a"/>
<circle cx="330.80" cy="394.80" r="1.15" fill="#4a4a4a"/>
<line x1="361.20" y1="398.90" x2="371.10" y2="398.90" stroke="#5a5a5a" stroke-width="1.4"/>
<circle cx="366.15" cy="394.80" r="1.15" fill="#4a4a4a"/>
<line x1="399.00" y1="398.90" x2="408.70" y2="398.90" stroke="#5a5a5a" stroke-width="1.4"/>
<circle cx="403.85" cy="394.80" r="1.15" fill="#4a4a4a"/>
<line x1="435.70" y1="398.90" x2="445.40" y2="398.90" stroke="#5a5a5a" stroke-width="1.4"/>
<circle cx="439.05" cy="394.80" r="1.15" fill="#4a4a4a"/>
<circle cx="442.05" cy="394.80" r="1.15" fill="#4a4a4a"/>
<line x1="452.80" y1="398.90" x2="463.00" y2="398.90" stroke="#5a5a5a" stroke-width="1.4"/>
<circle cx="457.90" cy="394.80" r="1.15" fill="#4a4a4a"/>
<line x1="475.40" y1="398.90" x2="483.10" y2="398.90" stroke="#5a5a5a" stroke-width="1.4"/>
<circle cx="479.25" cy="394.80" r="1.15" fill="#4a4a4a"/>
<rect x="0" y="0" width="520" height="1.2" fill="#111"/>
<rect x="0" y="0" width="1.5" height="562" fill="#4a4a4a"/>
<rect x="518" y="0" width="2" height="562" fill="#4a4a4a"/>
<rect x="0" y="560" width="520" height="2" fill="#4a4a4a"/>
</svg>
</body></html>
